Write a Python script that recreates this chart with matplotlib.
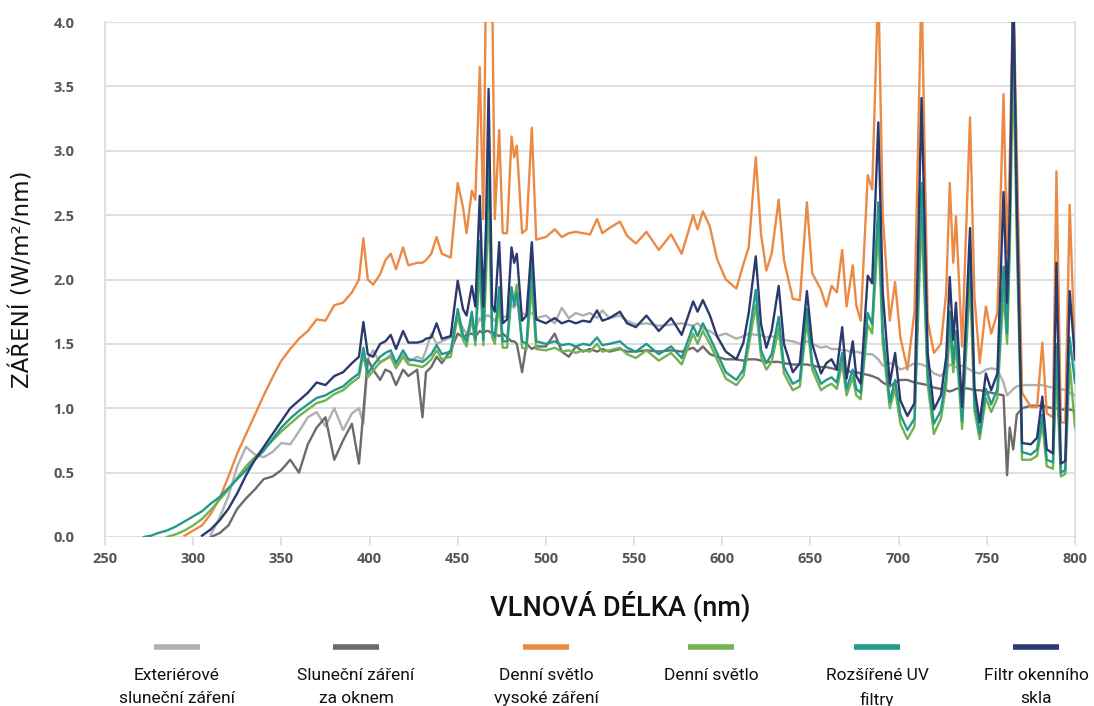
import numpy as np
import matplotlib
matplotlib.use("Agg")
import matplotlib.pyplot as plt
from matplotlib import font_manager
from matplotlib.lines import Line2D

nan = np.nan

# --- data ---
wavelength = [
    272, 276, 280, 285, 290, 295, 300, 305, 310, 315,
    320, 325, 330, 335, 340, 345, 350, 355, 360, 365,
    370, 375, 380, 385, 390, 394, 396.5, 399, 402, 406,
    409, 412, 415, 419, 422, 427, 430, 432, 435, 438,
    441, 446, 450, 453, 455, 458, 460, 462.5, 464.5, 466,
    467.5, 469.5, 471, 473.5, 475.5, 478, 480.5, 482, 483.5, 486.5,
    489, 492, 494.5, 500, 505, 509, 513, 517, 521, 525,
    529, 532, 536, 542, 546, 551, 557, 564, 571, 577,
    583.5, 586, 589, 593, 597, 602, 608, 612, 615, 619,
    622, 625, 628, 632, 635, 640, 644, 648, 651, 656,
    659, 662, 665, 668, 670.5, 674, 676, 678.5, 682.5, 685,
    688.5, 691, 695, 698, 701, 705, 709, 713, 716.5, 720,
    724, 727, 729, 731, 732.5, 736, 740.5, 743, 746, 749.5,
    752.5, 756, 759.5, 761.5, 763, 765, 767, 770, 775, 778.5,
    781.5, 784, 787.5, 789.5, 792, 794.5, 797, 800,
]

exterior_sun = [
    nan, nan, nan, nan, nan, nan, nan, nan, 0.02, 0.15,
    0.32, 0.55, 0.70, 0.64, 0.62, 0.66, 0.73, 0.72, 0.82, 0.93,
    0.97, 0.86, 1.00, 0.83, 0.96, 1.00, 0.88, 1.38, 1.45, 1.35,
    1.38, 1.42, 1.32, 1.42, 1.36, 1.40, 1.38, 1.45, 1.58, 1.50,
    1.52, 1.55, 1.70, 1.62, 1.58, 1.66, 1.62, 1.70, 1.66, 1.72,
    1.72, 1.70, 1.68, 1.74, 1.70, 1.72, 1.80, 1.78, 1.82, 1.74,
    1.72, 1.74, 1.70, 1.72, 1.66, 1.78, 1.70, 1.74, 1.72, 1.74,
    1.70, 1.76, 1.70, 1.72, 1.68, 1.65, 1.66, 1.64, 1.65, 1.66,
    1.64, 1.66, 1.62, 1.60, 1.56, 1.58, 1.54, 1.56, 1.58, 1.57,
    1.57, 1.55, 1.56, 1.54, 1.53, 1.52, 1.50, 1.52, 1.50, 1.47,
    1.48, 1.46, 1.46, 1.45, 1.45, 1.43, 1.44, 1.43, 1.42, 1.42,
    1.38, 1.33, 1.35, 1.34, 1.30, 1.32, 1.35, 1.34, 1.32, 1.27,
    1.25, 1.30, 1.34, 1.33, 1.32, 1.33, 1.30, 1.28, 1.27, 1.30,
    1.31, 1.30, 1.20, 1.10, 1.12, 1.15, 1.17, 1.18, 1.18, 1.18,
    1.18, 1.17, 1.16, 1.16, 1.15, 1.14, 1.12, 1.10,
]

sun_behind_window = [
    nan, nan, nan, nan, nan, nan, nan, nan, 0.00, 0.03,
    0.09, 0.22, 0.30, 0.37, 0.45, 0.47, 0.52, 0.60, 0.50, 0.72,
    0.85, 0.93, 0.60, 0.75, 0.88, 0.57, 0.98, 1.38, 1.30, 1.22,
    1.30, 1.28, 1.18, 1.30, 1.25, 1.30, 0.93, 1.28, 1.32, 1.40,
    1.35, 1.45, 1.58, 1.55, 1.57, 1.58, 1.56, 1.60, 1.58, 1.60,
    1.60, 1.58, 1.58, 1.56, 1.58, 1.55, 1.52, 1.52, 1.50, 1.28,
    1.50, 1.46, 1.48, 1.48, 1.58, 1.44, 1.40, 1.48, 1.44, 1.46,
    1.44, 1.46, 1.44, 1.46, 1.44, 1.44, 1.45, 1.44, 1.45, 1.44,
    1.47, 1.44, 1.48, 1.42, 1.40, 1.38, 1.38, 1.37, 1.38, 1.38,
    1.37, 1.36, 1.36, 1.36, 1.35, 1.34, 1.34, 1.34, 1.33, 1.32,
    1.32, 1.31, 1.30, 1.30, 1.29, 1.28, 1.28, 1.27, 1.26, 1.25,
    1.23, 1.20, 1.17, 1.20, 1.22, 1.22, 1.20, 1.19, 1.18, 1.16,
    1.15, 1.14, 1.13, 1.14, 1.15, 1.16, 1.15, 1.14, 1.14, 1.13,
    1.12, 1.11, 1.10, 0.48, 0.85, 0.68, 0.95, 1.00, 1.02, 1.02,
    1.02, 1.01, 1.00, 1.00, 0.99, 0.99, 0.99, 0.98,
]

daylight_high = [
    nan, nan, nan, nan, nan, 0.01, 0.05, 0.09, 0.18, 0.30,
    0.47, 0.65, 0.80, 0.95, 1.10, 1.24, 1.37, 1.46, 1.54, 1.60,
    1.69, 1.68, 1.80, 1.82, 1.90, 2.00, 2.32, 2.00, 1.96, 2.04,
    2.15, 2.20, 2.08, 2.25, 2.11, 2.13, 2.13, 2.15, 2.20, 2.33,
    2.20, 2.17, 2.75, 2.56, 2.36, 2.69, 2.62, 3.65, 2.47, 4.30,
    4.30, 4.30, 2.47, 3.16, 2.36, 2.36, 3.11, 2.95, 3.04, 2.36,
    2.39, 3.18, 2.31, 2.33, 2.39, 2.33, 2.36, 2.37, 2.36, 2.35,
    2.47, 2.36, 2.40, 2.45, 2.34, 2.28, 2.37, 2.23, 2.35, 2.20,
    2.50, 2.39, 2.53, 2.41, 2.16, 2.00, 1.93, 2.12, 2.25, 2.95,
    2.35, 2.07, 2.20, 2.62, 2.15, 1.85, 1.84, 2.60, 2.05, 1.92,
    1.79, 1.95, 1.90, 2.23, 1.79, 2.11, 1.80, 1.68, 2.81, 2.70,
    4.30, 2.50, 1.68, 1.98, 1.55, 1.30, 1.75, 4.30, 1.68, 1.43,
    1.50, 1.90, 2.75, 2.13, 2.49, 1.48, 3.26, 1.87, 1.35, 1.79,
    1.58, 1.74, 3.44, 2.20, 2.90, 4.30, 3.00, 1.12, 1.01, 1.01,
    1.51, 0.96, 0.93, 2.84, 0.89, 0.89, 2.58, 1.38,
]

daylight = [
    nan, nan, nan, 0.00, 0.02, 0.05, 0.09, 0.14, 0.21, 0.29,
    0.37, 0.46, 0.55, 0.62, 0.68, 0.75, 0.82, 0.88, 0.94, 0.99,
    1.04, 1.06, 1.11, 1.14, 1.20, 1.24, 1.42, 1.24, 1.29, 1.36,
    1.38, 1.40, 1.31, 1.40, 1.34, 1.33, 1.32, 1.34, 1.38, 1.45,
    1.38, 1.40, 1.72, 1.53, 1.48, 1.70, 1.49, 2.10, 1.49, 2.00,
    2.60, 1.55, 1.50, 1.82, 1.47, 1.47, 1.88, 1.85, 1.96, 1.47,
    1.46, 1.95, 1.46, 1.45, 1.47, 1.44, 1.45, 1.43, 1.45, 1.44,
    1.50, 1.44, 1.45, 1.47, 1.42, 1.39, 1.45, 1.37, 1.43, 1.34,
    1.58, 1.50, 1.60, 1.50, 1.38, 1.23, 1.18, 1.25, 1.48, 1.80,
    1.40, 1.30, 1.36, 1.62, 1.27, 1.14, 1.17, 1.68, 1.30, 1.14,
    1.17, 1.19, 1.15, 1.35, 1.10, 1.24, 1.10, 1.07, 1.65, 1.58,
    2.40, 1.50, 1.00, 1.15, 0.88, 0.76, 0.86, 2.50, 1.18, 0.80,
    0.92, 1.18, 1.60, 1.28, 1.50, 0.84, 2.00, 0.98, 0.76, 1.08,
    0.97, 1.08, 1.90, 1.50, 2.20, 3.70, 2.30, 0.60, 0.60, 0.63,
    0.88, 0.55, 0.53, 1.30, 0.47, 0.49, 1.35, 0.85,
]

extended_uv = [
    0.00, 0.01, 0.03, 0.05, 0.08, 0.12, 0.16, 0.20, 0.26, 0.31,
    0.38, 0.45, 0.52, 0.60, 0.67, 0.76, 0.85, 0.92, 0.98, 1.03,
    1.08, 1.10, 1.14, 1.17, 1.23, 1.27, 1.47, 1.27, 1.33, 1.40,
    1.43, 1.45, 1.35, 1.45, 1.38, 1.37, 1.36, 1.38, 1.42, 1.49,
    1.42, 1.44, 1.77, 1.57, 1.52, 1.75, 1.53, 2.30, 1.53, 2.20,
    3.00, 1.60, 1.55, 1.94, 1.52, 1.52, 1.94, 1.80, 1.90, 1.52,
    1.50, 2.13, 1.52, 1.50, 1.52, 1.49, 1.50, 1.48, 1.50, 1.49,
    1.55, 1.49, 1.50, 1.52, 1.47, 1.44, 1.50, 1.42, 1.48, 1.39,
    1.64, 1.56, 1.66, 1.55, 1.43, 1.28, 1.22, 1.30, 1.55, 1.92,
    1.45, 1.35, 1.42, 1.71, 1.32, 1.19, 1.22, 1.77, 1.35, 1.19,
    1.22, 1.24, 1.20, 1.43, 1.15, 1.30, 1.15, 1.12, 1.74, 1.65,
    2.60, 1.60, 1.05, 1.22, 0.95, 0.83, 0.92, 2.75, 1.25, 0.88,
    0.98, 1.25, 1.75, 1.35, 1.60, 0.90, 2.20, 1.05, 0.80, 1.15,
    1.03, 1.15, 2.10, 1.58, 2.40, 4.30, 2.50, 0.66, 0.64, 0.68,
    0.95, 0.60, 0.58, 1.50, 0.50, 0.52, 1.55, 1.20,
]

window_filter = [
    nan, nan, nan, nan, nan, nan, nan, 0.01, 0.06, 0.13,
    0.22, 0.34, 0.48, 0.60, 0.70, 0.80, 0.90, 1.00, 1.06, 1.12,
    1.20, 1.18, 1.25, 1.28, 1.35, 1.40, 1.67, 1.42, 1.40, 1.50,
    1.52, 1.57, 1.46, 1.60, 1.51, 1.51, 1.52, 1.54, 1.55, 1.66,
    1.54, 1.56, 1.99, 1.77, 1.72, 1.95, 1.79, 2.65, 1.79, 2.40,
    3.48, 1.80, 1.75, 2.29, 1.66, 1.69, 2.25, 2.13, 2.20, 1.68,
    1.72, 2.29, 1.69, 1.66, 1.70, 1.66, 1.68, 1.66, 1.68, 1.67,
    1.76, 1.68, 1.70, 1.75, 1.66, 1.63, 1.72, 1.60, 1.70, 1.57,
    1.83, 1.75, 1.84, 1.72, 1.56, 1.44, 1.38, 1.51, 1.74, 2.18,
    1.65, 1.47, 1.60, 1.95, 1.50, 1.28, 1.35, 1.91, 1.50, 1.27,
    1.35, 1.38, 1.30, 1.63, 1.23, 1.52, 1.25, 1.19, 2.03, 1.97,
    3.22, 1.90, 1.19, 1.43, 1.06, 0.94, 1.04, 3.41, 1.43, 0.99,
    1.10, 1.40, 2.02, 1.53, 1.82, 1.01, 2.40, 1.16, 0.89, 1.27,
    1.14, 1.27, 2.68, 1.82, 2.50, 4.30, 2.60, 0.73, 0.72, 0.77,
    1.09, 0.68, 0.65, 2.13, 0.57, 0.59, 1.91, 1.38,
]

series = [exterior_sun, sun_behind_window, daylight_high, daylight, extended_uv, window_filter]
labels = [
    "Exteriérové\nsluneční záření",
    "Sluneční záření\nza oknem",
    "Denní světlo\nvysoké záření",
    "Denní světlo",
    "Rozšířené UV\nfiltry",
    "Filtr okenního\nskla",
]
colors = ["#b0b0b0", "#6b6b6b", "#eb8a45", "#72b154", "#22998a", "#2b3a6e"]

x_ticks = np.arange(250, 801, 50)
y_ticks = np.arange(0, 4.01, 0.5)

# --- fonts ---
installed = {f.name for f in font_manager.fontManager.ttflist}
text_font = "Roboto" if "Roboto" in installed else "DejaVu Sans"
tick_font = "Open Sans" if "Open Sans" in installed else "DejaVu Sans"

# --- figure ---
fig = plt.figure(figsize=(10.94, 7.06), dpi=100, facecolor="white")
ax = fig.add_axes([0.096, 0.2394, 0.8866, 0.7294])

for vals, col in zip(series, colors):
    ax.plot(wavelength, vals, color=col, lw=1.7, solid_joinstyle="round", zorder=3)

ax.set_xlim(250, 800)
ax.set_ylim(0, 4.0)
ax.set_xticks(x_ticks)
ax.set_yticks(y_ticks)
ax.set_yticklabels([f"{v:.1f}" for v in y_ticks])

ax.grid(axis="y", color="#dcdcdc", lw=1.3, zorder=0)
for side in ["top", "bottom"]:
    ax.spines[side].set_visible(False)
for side in ["left", "right"]:
    ax.spines[side].set_color("#dcdcdc")
    ax.spines[side].set_linewidth(1.3)

ax.tick_params(axis="y", length=0, pad=22, labelsize=10.5, labelcolor="#555555")
ax.tick_params(axis="x", length=6, width=1.2, color="#dcdcdc", pad=5,
               labelsize=10.5, labelcolor="#555555")
for lab in ax.get_xticklabels() + ax.get_yticklabels():
    lab.set_fontfamily(tick_font)
    lab.set_fontweight("bold")

ax.set_ylabel("ZÁŘENÍ (W/m²/nm)", fontsize=16.5, family="DejaVu Sans",
              fontweight="medium", color="#111111", labelpad=14)
ax.set_xlabel("VLNOVÁ DÉLKA (nm)", fontsize=19.5, family=text_font,
              fontweight="medium", color="#111111")
ax.xaxis.set_label_coords(0.531, -0.105)

# legend: short line above a centred, two-line caption
legend_x = [177, 356, 546, 711, 877, 1036]
W, H = 1094, 706
for cx, col, lab in zip(legend_x, colors, labels):
    fig.add_artist(Line2D([(cx - 23) / W, (cx + 23) / W], [1 - 647 / H] * 2,
                          color=col, lw=4, solid_capstyle="butt"))
    fig.text(cx / W, 1 - 668 / H, lab, ha="center", va="top", fontsize=12.5,
             family=text_font, color="#111111", linespacing=1.65)

fig.savefig("out.png", dpi=100, facecolor="white")
